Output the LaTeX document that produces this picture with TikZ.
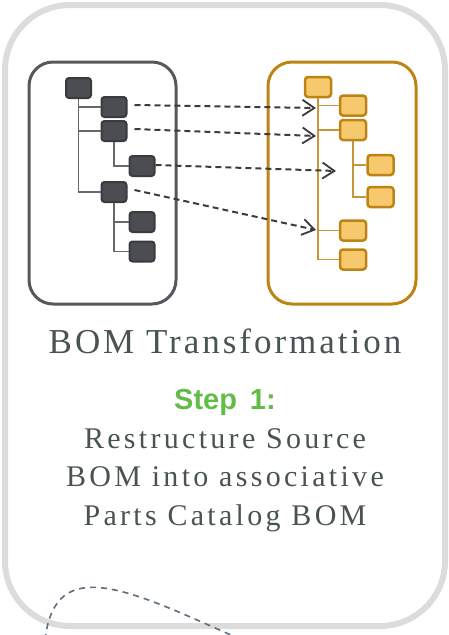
\documentclass[tikz,border=0pt]{standalone}
\usepackage{fontspec}
\usepackage{tikz}
\usetikzlibrary{arrows.meta,positioning,calc}
\newfontfamily\captionserif[LetterSpace=8.5]{Liberation Serif}
\newfontfamily\bodyserif[LetterSpace=11]{Liberation Serif}
\newfontfamily\stepsans{Liberation Sans}
\definecolor{framegray}{HTML}{DCDCDC}
\definecolor{srcdark}{HTML}{4B4D52}
\definecolor{srcedge}{HTML}{3A3B3F}
\definecolor{srcframe}{HTML}{55585C}
\definecolor{catfill}{HTML}{F6C96F}
\definecolor{catedge}{HTML}{BE8413}
\definecolor{catline}{HTML}{C8963A}
\definecolor{textslate}{HTML}{4A5353}
\definecolor{stepgreen}{HTML}{62BD48}
\definecolor{curveslate}{HTML}{5D6E7E}

\begin{document}
\begin{tikzpicture}[x=1pt,y=-1pt,
  srcpart/.style={rectangle,rounded corners=3pt,minimum width=25pt,minimum height=20pt,
    inner sep=0pt,fill=srcdark,draw=srcedge,line width=2pt},
  catpart/.style={rectangle,rounded corners=3pt,minimum width=26pt,minimum height=20pt,
    inner sep=0pt,fill=catfill,draw=catedge,line width=2.5pt},
  srclink/.style={draw=srcdark!85,line width=1.5pt},
  catlink/.style={draw=catline,line width=1.5pt},
  maplink/.style={draw=srcedge,line width=2pt,dash pattern=on 6pt off 4pt,
    -{Straight Barb[length=12pt,width=16pt,line width=1.8pt]}},
]
  \useasboundingbox (0,0) rectangle (449,635);
  % outer card
  \draw[framegray,line width=6pt,rounded corners=65pt] (5,5) rectangle (445,626);

  % source BOM
  \draw[srcframe,line width=3pt,rounded corners=24pt] (29,62) rectangle (176,304);
  \node[srcpart] (s0) at (78.5,88) {};
  \node[srcpart] (sA) at (114,107) {};
  \node[srcpart] (sB) at (114,131) {};
  \node[srcpart] (sC) at (142,166) {};
  \node[srcpart] (sD) at (114,192) {};
  \node[srcpart] (sE) at (142,222) {};
  \node[srcpart] (sF) at (142,251.5) {};
  \draw[srclink] (s0.south) |- (sD.west);
  \draw[srclink] (s0.south |- sA) -- (sA.west);
  \draw[srclink] (s0.south |- sB) -- (sB.west);
  \draw[srclink] (sB.south) |- (sC.west);
  \draw[srclink] (sD.south) |- (sF.west);
  \draw[srclink] (sD.south |- sE) -- (sE.west);

  % parts catalog BOM
  \draw[catedge,line width=3pt,rounded corners=24pt] (268,62) rectangle (416,304);
  \node[catpart] (t0) at (318,87) {};
  \node[catpart] (tA) at (353,105.5) {};
  \node[catpart] (tB) at (353,130) {};
  \node[catpart] (tC) at (380.5,165) {};
  \node[catpart] (tD) at (380.5,197) {};
  \node[catpart] (tE) at (353,230.5) {};
  \node[catpart] (tF) at (353,259.5) {};
  \draw[catlink] (t0.south) |- (tF.west);
  \draw[catlink] (t0.south |- tA) -- (tA.west);
  \draw[catlink] (t0.south |- tB) -- (tB.west);
  \draw[catlink] (t0.south |- tE) -- (tE.west);
  \draw[catlink] (tB.south) |- (tD.west);
  \draw[catlink] (tB.south |- tC) -- (tC.west);

  % mapping arrows
  \coordinate (inA) at (316,108);
  \coordinate (inB) at (316,136);
  \coordinate (inC) at (336,171);
  \coordinate (inE) at (316,230);
  \draw[maplink] ([xshift=7pt,yshift=2pt]sA.east) -- (inA);
  \draw[maplink] ([xshift=7pt,yshift=2pt]sB.east) -- (inB);
  \draw[maplink] ([yshift=1pt]sC.east) -- (inC);
  \draw[maplink] ([xshift=7pt,yshift=2pt]sD.east) -- (inE);

  % captions
  \node[anchor=base,inner sep=0pt,text=textslate,font=\captionserif\fontsize{35}{40}\selectfont]
    (title) at (225,353) {BOM Transformation};
  \node[anchor=base,inner sep=0pt,text=stepgreen,font=\stepsans\bfseries\fontsize{29}{34}\selectfont]
    (step) at (225,409) {Step\, 1:};
  \node[anchor=north,inner sep=0pt,align=center,text=textslate,
    font=\bodyserif\fontsize{30}{38.5}\selectfont]
    (desc) at (225,428) {Restructure Source\\BOM into associative\\Parts Catalog BOM};

  % dashed curve at the bottom
  \draw[curveslate,line width=1.6pt,dash pattern=on 6pt off 5pt]
    (45,640) .. controls (55,552) and (130,590) .. (242,640);
\end{tikzpicture}
\end{document}
